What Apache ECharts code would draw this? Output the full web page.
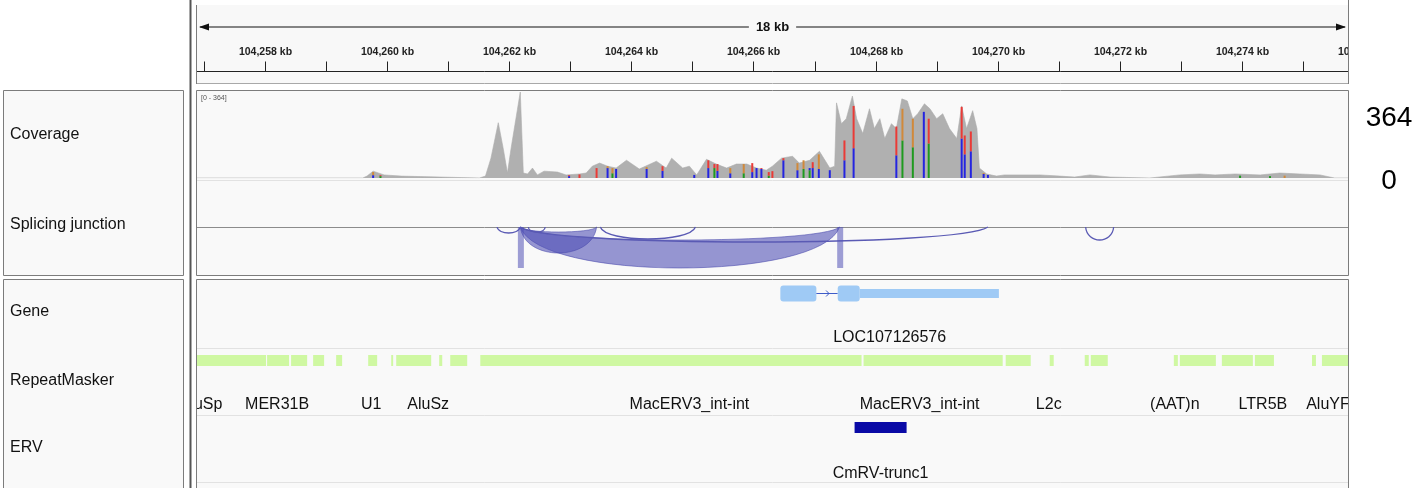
<!DOCTYPE html>
<html>
<head>
<meta charset="utf-8">
<script src="https://cdn.jsdelivr.net/npm/echarts@6/dist/echarts.min.js"></script>
<title>Coverage / splicing</title>
</head>
<body style="margin: 0; background: #fff">
<div id="container" style="width: 1426px; height: 488px"></div>
<script type="text/javascript">
// genomic window, in kb
const viewStart = 104256.885
const viewEnd = 104275.738
const rulerTicks = [104257, 104258, 104259, 104260, 104261, 104262, 104263, 104264, 104265, 104266,
    104267, 104268, 104269, 104270, 104271, 104272, 104273, 104274, 104275, 104276]

// coverage (reads) at positions in kb
const covMax = 364
const covPos = [104256.88, 104259.60, 104259.67, 104259.77, 104259.95, 104260.23, 104260.26, 104261.51, 104261.61, 104261.70,
    104261.82, 104261.90, 104261.97, 104262.03, 104262.18, 104262.23, 104262.30, 104262.38, 104262.46, 104262.57,
    104262.79, 104262.93, 104263.15, 104263.26, 104263.36, 104263.48, 104263.61, 104263.75, 104263.92, 104264.13,
    104264.41, 104264.57, 104264.66, 104264.84, 104264.95, 104265.07, 104265.23, 104265.39, 104265.56, 104265.72,
    104265.89, 104266.05, 104266.21, 104266.31, 104266.46, 104266.64, 104266.75, 104266.92, 104267.08, 104267.25,
    104267.33, 104267.36, 104267.44, 104267.52, 104267.62, 104267.69, 104267.79, 104267.90, 104267.98, 104268.07,
    104268.15, 104268.26, 104268.34, 104268.43, 104268.52, 104268.61, 104268.69, 104268.80, 104268.89, 104269.00,
    104269.10, 104269.21, 104269.33, 104269.41, 104269.49, 104269.59, 104269.66, 104269.70, 104269.82, 104269.98,
    104270.11, 104270.69, 104271.02, 104271.26, 104271.51, 104271.84, 104272.49, 104272.98, 104273.31, 104273.56,
    104273.89, 104274.30, 104274.62, 104274.95, 104275.28, 104275.44, 104275.52, 104275.74]
const covVal = [0, 0, 8, 29, 13, 8, 0, 0, 8, 84,
    234, 126, 21, 126, 364, 21, 17, 42, 13, 29,
    25, 13, 17, 21, 50, 63, 50, 42, 75, 38,
    71, 42, 84, 42, 50, 13, 79, 59, 42, 59,
    59, 42, 33, 50, 84, 92, 63, 75, 113, 42,
    50, 318, 230, 251, 347, 251, 188, 293, 209, 251,
    167, 230, 209, 335, 326, 251, 272, 314, 293, 251,
    272, 209, 167, 305, 209, 285, 209, 42, 17, 8,
    13, 13, 8, 4, 13, 4, 0, 13, 17, 13,
    17, 13, 21, 17, 13, 4, 0, 0]

// mismatched bases: position, lower segment top, bar top, bases
const mmPos = [104259.77, 104259.89, 104262.98, 104263.15, 104263.43, 104263.61, 104263.69, 104263.75, 104264.25, 104264.51,
    104265.03, 104265.26, 104265.36, 104265.41, 104265.62, 104265.84, 104265.98, 104266.05, 104266.13, 104266.25,
    104266.31, 104266.49, 104266.72, 104266.82, 104266.92, 104266.97, 104267.07, 104267.25, 104267.49, 104267.64,
    104268.34, 104268.44, 104268.61, 104268.79, 104268.87, 104269.41, 104269.46, 104269.56, 104269.77, 104269.84,
    104273.97, 104274.46, 104274.70]
const mmLow = [12, 8, 8, 15, 42, 42, 20, 38, 38, 30,
    13, 42, 42, 30, 20, 20, 25, 42, 38, 10,
    29, 75, 33, 38, 33, 42, 38, 33, 75, 126,
    96, 159, 130, 280, 146, 167, 100, 113, 17, 13,
    10, 8, 10]
const mmHigh = [25, 12, 12, 15, 42, 50, 42, 38, 46, 50,
    13, 75, 59, 59, 42, 59, 63, 42, 42, 25,
    29, 84, 63, 75, 42, 67, 100, 33, 159, 305,
    218, 293, 251, 280, 251, 301, 180, 197, 21, 13,
    10, 8, 10]
const mmLowBase = ['C', 'A', 'C', 'T', 'T', 'C', 'A', 'C', 'C', 'C',
    'C', 'C', 'A', 'C', 'C', 'A', 'C', 'C', 'C', 'A',
    'T', 'C', 'C', 'A', 'A', 'C', 'C', 'C', 'C', 'C',
    'C', 'A', 'A', 'C', 'A', 'C', 'C', 'C', 'C', 'C',
    'A', 'A', 'G']
const mmHighBase = ['G', 'T', 'T', 'T', 'T', 'G', 'G', 'C', 'G', 'T',
    'C', 'T', 'T', 'T', 'G', 'G', 'T', 'C', 'T', 'T',
    'T', 'T', 'G', 'G', 'C', 'T', 'G', 'C', 'T', 'T',
    'T', 'G', 'G', 'C', 'T', 'T', 'T', 'T', 'G', 'C',
    'A', 'A', 'G']
const baseColor = {A: '#1f9a1f', C: '#2424e0', G: '#d1893a', T: '#ea3a36'}

// splice junctions: start, end, depth, thickness
const junctions = [
    [104262.18, 104267.41, 41, 28],
    [104262.18, 104263.43, 26, 21],
    [104262.18, 104269.84, 15, 0],
    [104263.49, 104265.05, 12, 0],
    [104261.80, 104262.18, 6, 0],
    [104262.31, 104262.59, 5, 0],
    [104271.44, 104271.90, 13, 0]
]
const junctionEnds = [[104262.19, 41], [104267.42, 41]]

// gene model: start, end, kind (0 exon, 1 thin exon, 2 intron)
const geneName = 'LOC107126576'
const geneLabelPos = 104268.23
const geneBlocks = [
    [104266.44, 104267.03, 0],
    [104267.03, 104267.38, 2],
    [104267.38, 104267.74, 0],
    [104267.74, 104270.02, 1]
]

// RepeatMasker elements
const repeatStart = [104256.885, 104258.033, 104258.426, 104258.787, 104259.164, 104259.689, 104260.066, 104260.148, 104260.852, 104261.033,
    104261.525, 104267.803, 104270.131, 104270.852, 104271.426, 104271.525, 104272.885, 104272.984, 104273.672, 104274.213,
    104275.148, 104275.311]
const repeatEnd = [104258.016, 104258.393, 104258.689, 104258.967, 104259.262, 104259.836, 104260.098, 104260.721, 104260.902, 104261.311,
    104267.770, 104270.082, 104270.541, 104270.918, 104271.492, 104271.803, 104272.951, 104273.574, 104274.180, 104274.525,
    104275.213, 104275.738]
const repeatNames = ['AluSp', 'MER31B', 'U1', 'AluSz', 'MacERV3_int-int', 'MacERV3_int-int', 'L2c', '(AAT)n', 'LTR5B', 'AluYF']
const repeatLabelPos = [104256.951, 104258.197, 104259.738, 104260.672, 104264.951, 104268.721, 104270.836, 104272.902, 104274.344, 104275.410]

// ERV
const ervName = 'CmRV-trunc1'
const ervStart = 104267.656
const ervEnd = 104268.508
const ervLabelPos = 104268.082

const trackNames = ['Coverage', 'Splicing junction', 'Gene', 'RepeatMasker', 'ERV']

const FONT = '"Liberation Sans", Arial, Helvetica, sans-serif'

function kbLabel(v) {
    return String(v).replace(/\B(?=(\d{3})+(?!\d))/g, ',') + ' kb'
}

function xAx(i, extra) {
    return Object.assign({type: 'value', gridIndex: i, min: viewStart, max: viewEnd, show: false}, extra || {})
}
function yAx(i, min, max) {
    return {type: 'value', gridIndex: i, min: min, max: max, show: false}
}

let chart = echarts.init(document.getElementById('container'))

let graphics = [
    // panels
    {type: 'rect', shape: {x: 197, y: 5, width: 1151, height: 78}, style: {fill: '#f8f8f8'}, z: 0},
    {type: 'rect', shape: {x: 3.5, y: 90.5, width: 180, height: 185}, style: {fill: '#f9f9f9', stroke: '#7c7c7c'}, z: 0},
    {type: 'rect', shape: {x: 3.5, y: 279.5, width: 180, height: 230}, style: {fill: '#f9f9f9', stroke: '#7c7c7c'}, z: 0},
    {type: 'rect', shape: {x: 196.5, y: 90.5, width: 1152, height: 185}, style: {fill: '#f9f9f9'}, z: 0},
    {type: 'rect', shape: {x: 196.5, y: 279.5, width: 1152, height: 230}, style: {fill: '#f9f9f9'}, z: 0},
    {type: 'rect', shape: {x: 196.5, y: 90.5, width: 1152, height: 185}, style: {fill: null, stroke: '#7c7c7c'}, z: 50},
    {type: 'rect', shape: {x: 196.5, y: 279.5, width: 1152, height: 230}, style: {fill: null, stroke: '#7c7c7c'}, z: 50},
    // track separators
    {type: 'line', shape: {x1: 197, y1: 180.5, x2: 1348, y2: 180.5}, style: {stroke: '#e2e2e2'}, z: 1},
    {type: 'line', shape: {x1: 197, y1: 348.5, x2: 1348, y2: 348.5}, style: {stroke: '#e2e2e2'}, z: 1},
    {type: 'line', shape: {x1: 197, y1: 415.5, x2: 1348, y2: 415.5}, style: {stroke: '#e2e2e2'}, z: 1},
    {type: 'line', shape: {x1: 197, y1: 482.5, x2: 1348, y2: 482.5}, style: {stroke: '#e2e2e2'}, z: 1},
    // ruler frame
    {type: 'line', shape: {x1: 197, y1: 71.5, x2: 1348, y2: 71.5}, style: {stroke: '#222', lineWidth: 1}, z: 50},
    {type: 'line', shape: {x1: 197, y1: 83.5, x2: 1348, y2: 83.5}, style: {stroke: '#a8a8a8'}, z: 50},
    {type: 'line', shape: {x1: 196.5, y1: 5, x2: 196.5, y2: 84}, style: {stroke: '#7c7c7c'}, z: 50},
    {type: 'line', shape: {x1: 1348.5, y1: 0, x2: 1348.5, y2: 84}, style: {stroke: '#7c7c7c'}, z: 50},
    // divider
    {type: 'line', shape: {x1: 190.5, y1: 0, x2: 190.5, y2: 488}, style: {stroke: '#555', lineWidth: 2}, z: 50},
    // coverage range
    {type: 'text', x: 201, y: 98, style: {text: '[0 - ' + covMax + ']', font: '7px ' + FONT, fill: '#555',
        textAlign: 'left', textVerticalAlign: 'middle', align: 'left', verticalAlign: 'middle'}, z: 50},
    // outside scale labels
    {type: 'text', x: 1389, y: 118, style: {text: String(covMax), font: '28px ' + FONT, fill: '#000',
        textAlign: 'center', textVerticalAlign: 'middle', align: 'center', verticalAlign: 'middle'}, z: 50},
    {type: 'text', x: 1389, y: 181, style: {text: '0', font: '28px ' + FONT, fill: '#000',
        textAlign: 'center', textVerticalAlign: 'middle', align: 'center', verticalAlign: 'middle'}, z: 50}
]
const nameY = [135, 225, 312, 381, 448]
trackNames.forEach(function (n, i) {
    graphics.push({type: 'text', x: 10, y: nameY[i], style: {text: n, font: '16px ' + FONT, fill: '#111',
        textAlign: 'left', textVerticalAlign: 'middle', align: 'left', verticalAlign: 'middle'}, z: 50})
})

function textEl(x, y, txt, font, fill) {
    return {type: 'text', x: x, y: y, style: {text: txt, font: font, fill: fill || '#111',
        textAlign: 'center', textVerticalAlign: 'middle', align: 'center', verticalAlign: 'middle'}}
}

chart.setOption({
    animation: false,
    graphic: graphics,
    grid: [
        {left: 197, right: 78, top: 5, height: 78},
        {left: 197, right: 78, top: 92, height: 86},
        {left: 197, right: 78, top: 181, height: 92},
        {left: 197, right: 78, top: 279, height: 69},
        {left: 197, right: 78, top: 348, height: 67},
        {left: 197, right: 78, top: 415, height: 67}
    ],
    xAxis: [
        xAx(0), xAx(1),
        xAx(2, {show: true, axisLine: {onZero: true, lineStyle: {color: '#8c8c8c', width: 1}},
            axisTick: {show: false}, axisLabel: {show: false}, splitLine: {show: false}}),
        xAx(3), xAx(4), xAx(5)
    ],
    yAxis: [yAx(0, 0, 1), yAx(1, 0, covMax), yAx(2, -46, 46), yAx(3, 0, 1), yAx(4, 0, 1), yAx(5, 0, 1)],
    series: [
        {   // ruler ticks
            type: 'custom', xAxisIndex: 0, yAxisIndex: 0, clip: true,
            data: rulerTicks.map(v => [v]),
            renderItem: function (params, api) {
                let kb = api.value(0)
                let x = Math.round(api.coord([kb, 0])[0]) + 0.5
                let base = params.coordSys.y + 66.5
                let kids = [{type: 'line', shape: {x1: x, y1: base - 10, x2: x, y2: base}, style: {stroke: '#222', lineWidth: 1}}]
                if (kb % 2 === 0) kids.push(textEl(x, base - 19, kbLabel(kb), 'bold 10.5px ' + FONT, '#222'))
                return {type: 'group', children: kids}
            }
        },
        {   // span arrow
            type: 'custom', xAxisIndex: 0, yAxisIndex: 0,
            data: [[viewStart, viewEnd]],
            renderItem: function (params, api) {
                let x1 = api.coord([api.value(0), 0])[0] + 3
                let x2 = api.coord([api.value(1), 0])[0] - 3
                let y = params.coordSys.y + 22
                let t = textEl((x1 + x2) / 2, y, Math.floor(api.value(1) - api.value(0)) + ' kb', 'bold 13px ' + FONT, '#111')
                t.style.backgroundColor = '#f8f8f8'
                t.style.padding = [0, 7]
                return {type: 'group', children: [
                    {type: 'line', shape: {x1: x1, y1: y, x2: x2, y2: y}, style: {stroke: '#111', lineWidth: 1.2}},
                    {type: 'polygon', shape: {points: [[x1 - 1, y], [x1 + 9, y - 3.5], [x1 + 9, y + 3.5]]}, style: {fill: '#111'}},
                    {type: 'polygon', shape: {points: [[x2 + 1, y], [x2 - 9, y - 3.5], [x2 - 9, y + 3.5]]}, style: {fill: '#111'}},
                    t
                ]}
            }
        },
        {   // coverage
            type: 'line', xAxisIndex: 1, yAxisIndex: 1, z: 2,
            data: covPos.map((p, i) => [p, covVal[i]]),
            symbol: 'none', smooth: false,
            lineStyle: {width: 0.6, color: '#acacac'},
            areaStyle: {color: '#b0b0b0', opacity: 1},
            itemStyle: {color: '#acacac'}
        },
        {   // mismatched bases
            type: 'custom', xAxisIndex: 1, yAxisIndex: 1, clip: true, z: 4,
            data: mmPos.map((p, i) => [p, mmLow[i], mmHigh[i]]),
            renderItem: function (params, api) {
                let i = params.dataIndex
                let p0 = api.coord([api.value(0), 0])
                let yl = api.coord([api.value(0), api.value(1)])[1]
                let yh = api.coord([api.value(0), api.value(2)])[1]
                let x = p0[0] - 1
                return {type: 'group', children: [
                    {type: 'rect', shape: {x: x, y: yl, width: 2, height: p0[1] - yl}, style: {fill: baseColor[mmLowBase[i]]}},
                    {type: 'rect', shape: {x: x, y: yh, width: 2, height: yl - yh}, style: {fill: baseColor[mmHighBase[i]]}}
                ]}
            }
        },
        {   // splice junction arcs
            type: 'custom', xAxisIndex: 2, yAxisIndex: 2, clip: true, z: 4,
            data: junctions,
            renderItem: function (params, api) {
                let s = api.value(0), e = api.value(1), d = api.value(2), t = api.value(3)
                let p1 = api.coord([s, 0]), p2 = api.coord([e, 0])
                let y0 = p1[1]
                let dOut = (api.coord([s, -d])[1] - y0) * 4 / 3
                let dIn = (api.coord([s, -(d - t)])[1] - y0) * 4 / 3
                let a = (p2[0] - p1[0]) * 0.06
                let outer = 'M' + p1[0] + ' ' + y0 + ' C' + (p1[0] + a) + ' ' + (y0 + dOut) + ' ' + (p2[0] - a) + ' ' + (y0 + dOut) + ' ' + p2[0] + ' ' + y0
                if (t < 1) {
                    return {type: 'path', shape: {pathData: outer}, style: {fill: null, stroke: '#5a5ab4', lineWidth: 1.3}}
                }
                let inner = ' C' + (p2[0] - a) + ' ' + (y0 + dIn) + ' ' + (p1[0] + a) + ' ' + (y0 + dIn) + ' ' + p1[0] + ' ' + y0 + ' Z'
                return {type: 'path', shape: {pathData: outer + inner},
                    style: {fill: 'rgba(82,82,182,0.6)', stroke: 'rgba(70,70,170,0.7)', lineWidth: 0.8}}
            }
        },
        {   // junction end bars
            type: 'custom', xAxisIndex: 2, yAxisIndex: 2, clip: true, z: 4,
            data: junctionEnds,
            renderItem: function (params, api) {
                let p = api.coord([api.value(0), 0])
                let yb = api.coord([api.value(0), -api.value(1)])[1]
                return {type: 'rect', shape: {x: p[0] - 3, y: p[1], width: 6, height: yb - p[1]},
                    style: {fill: 'rgba(82,82,182,0.55)'}}
            }
        },
        {   // gene model
            type: 'custom', xAxisIndex: 3, yAxisIndex: 3, clip: true, z: 4,
            data: geneBlocks,
            renderItem: function (params, api) {
                let x1 = api.coord([api.value(0), 0])[0], x2 = api.coord([api.value(1), 0])[0]
                let top = params.coordSys.y
                let kind = api.value(2)
                if (kind === 2) {
                    let y = top + 14.5, m = (x1 + x2) / 2
                    return {type: 'group', children: [
                        {type: 'line', shape: {x1: x1, y1: y, x2: x2, y2: y}, style: {stroke: '#3e5cc8', lineWidth: 1}},
                        {type: 'polyline', shape: {points: [[m - 1, y - 3], [m + 2, y], [m - 1, y + 3]]}, style: {stroke: '#3e5cc8', fill: null, lineWidth: 1}}
                    ]}
                }
                let h = kind === 0 ? 16 : 9
                let y = top + 14.5 - h / 2
                return {type: 'rect', shape: {x: x1, y: y, width: x2 - x1, height: h, r: kind === 0 ? 3 : 0},
                    style: {fill: '#9fcaf5'}}
            }
        },
        {
            type: 'custom', xAxisIndex: 3, yAxisIndex: 3, clip: true, z: 4,
            data: [[geneLabelPos]],
            renderItem: function (params, api) {
                let x = api.coord([api.value(0), 0])[0]
                return textEl(x, params.coordSys.y + 59, geneName, '16px ' + FONT, '#111')
            }
        },
        {   // repeats
            type: 'custom', xAxisIndex: 4, yAxisIndex: 4, clip: true, z: 4,
            data: repeatStart.map((s, i) => [s, repeatEnd[i]]),
            renderItem: function (params, api) {
                let x1 = api.coord([api.value(0), 0])[0], x2 = api.coord([api.value(1), 0])[0]
                return {type: 'rect', shape: {x: x1, y: params.coordSys.y + 7, width: Math.max(1.5, x2 - x1), height: 11},
                    style: {fill: '#cff8a2'}}
            }
        },
        {
            type: 'custom', xAxisIndex: 4, yAxisIndex: 4, clip: true, z: 4,
            data: repeatLabelPos.map(v => [v]),
            renderItem: function (params, api) {
                let x = api.coord([api.value(0), 0])[0]
                return textEl(x, params.coordSys.y + 57, repeatNames[params.dataIndex], '16px ' + FONT, '#111')
            }
        },
        {   // ERV
            type: 'custom', xAxisIndex: 5, yAxisIndex: 5, clip: true, z: 4,
            data: [[ervStart, ervEnd]],
            renderItem: function (params, api) {
                let x1 = api.coord([api.value(0), 0])[0], x2 = api.coord([api.value(1), 0])[0]
                return {type: 'rect', shape: {x: x1, y: params.coordSys.y + 7, width: x2 - x1, height: 11},
                    style: {fill: '#0a0aa6'}}
            }
        },
        {
            type: 'custom', xAxisIndex: 5, yAxisIndex: 5, clip: true, z: 4,
            data: [[ervLabelPos]],
            renderItem: function (params, api) {
                let x = api.coord([api.value(0), 0])[0]
                return textEl(x, params.coordSys.y + 59, ervName, '16px ' + FONT, '#111')
            }
        }
    ]
}, true)
</script>
</body>
</html>
